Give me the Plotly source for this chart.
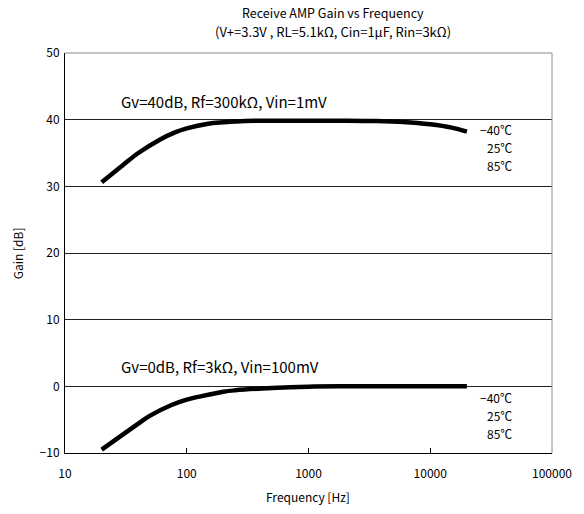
import plotly.graph_objects as go

# Receive amplifier gain vs frequency (two gain settings)
freq_hi = [20, 30, 40, 60, 80, 100, 150, 200, 300, 500, 1000, 2000, 3500, 6000, 10000, 15000, 20000]
gain_hi = [30.6, 33.2, 35.0, 37.0, 38.1, 38.7, 39.4, 39.6, 39.8, 39.85, 39.85, 39.85, 39.8, 39.65, 39.3, 38.8, 38.2]

freq_lo = [20, 30, 40, 50, 75, 100, 130, 200, 250, 500, 1000, 2000, 5000, 10000, 20000]
gain_lo = [-9.5, -7.2, -5.6, -4.4, -2.8, -2.0, -1.5, -0.8, -0.6, -0.25, -0.05, 0.0, 0.0, 0.0, 0.0]

x_ticks = [10, 100, 1000, 10000, 100000]
x_ticktext = ["10", "100", "1000", "10000", "100000"]
y_ticks = [-10, 0, 10, 20, 30, 40, 50]

temps = ["\u221240\u2103", "25\u2103", "85\u2103"]

FONT = "Noto Sans CJK JP"
L, R, T, B = 64.7, 561.7, 52.7, 453.3
PW, PH = R - L, B - T


def px(x):
    return (x - L) / PW


def py(y):
    return (B - y) / PH


fig = go.Figure()
for f, g in ((freq_hi, gain_hi), (freq_lo, gain_lo)):
    fig.add_trace(go.Scatter(x=f, y=g, mode="lines",
                             line=dict(color="black", width=4.5, shape="spline"),
                             showlegend=False, hoverinfo="skip"))

ann = []
for txt, ypos, size in (("Receive AMP Gain vs Frequency", 12, 12.5),
                        ("(V+=3.3V , RL=5.1k\u03a9, Cin=1\u03bcF, Rin=3k\u03a9)", 31, 13)):
    ann.append(dict(text=txt, xref="paper", yref="paper", x=px(338), y=py(ypos),
                    xanchor="center", yanchor="middle", showarrow=False,
                    font=dict(size=size, color="black", family=FONT)))

# condition labels
for txt, ypos in (("Gv=40dB, Rf=300k\u03a9, Vin=1mV", 101), ("Gv=0dB, Rf=3k\u03a9, Vin=100mV", 367)):
    ann.append(dict(text=txt, xref="paper", yref="paper", x=px(120), y=py(ypos),
                    xanchor="left", yanchor="middle", showarrow=False,
                    font=dict(size=15, color="black", family=FONT)))

# temperature labels for each curve group
for y0 in (129, 398):
    for i, t in enumerate(temps):
        ann.append(dict(text=t, xref="paper", yref="paper", x=px(523), y=py(y0 + 18 * i),
                        xanchor="right", yanchor="middle", showarrow=False,
                        font=dict(size=12, color="black", family=FONT)))

# axis titles
ann.append(dict(text="Frequency [Hz]", xref="paper", yref="paper", x=px(313), y=py(497),
                xanchor="center", yanchor="middle", showarrow=False,
                font=dict(size=12, color="black", family=FONT)))
ann.append(dict(text="Gain [dB]", xref="paper", yref="paper", x=px(16), y=0.5,
                xanchor="center", yanchor="middle", textangle=-90, showarrow=False,
                font=dict(size=12, color="black", family=FONT)))

fig.update_layout(
    width=584, height=514,
    margin=dict(l=L, r=584 - R, t=T, b=514 - B),
    paper_bgcolor="white", plot_bgcolor="white",
    font=dict(family=FONT, size=12, color="black"),
    annotations=ann,
    shapes=[
        dict(type="line", xref="paper", yref="paper", x0=0, x1=1, y0=1, y1=1,
             line=dict(color="#8c8c8c", width=1)),
        dict(type="line", xref="paper", yref="paper", x0=1, x1=1, y0=0, y1=1,
             line=dict(color="#8c8c8c", width=1)),
    ],
    xaxis=dict(type="log", range=[1, 5], tickvals=x_ticks, ticktext=x_ticktext,
               ticks="inside", ticklen=5, tickcolor="black", showgrid=False,
               showline=True, linecolor="black", linewidth=1, zeroline=False,
               ticklabelstandoff=10,
               tickfont=dict(size=12, color="black", family=FONT)),
    yaxis=dict(range=[-10, 50], tickvals=y_ticks, ticks="", showgrid=True,
               gridcolor="#222222", gridwidth=1, showline=True, linecolor="black",
               linewidth=1, zeroline=False, ticklabelstandoff=2,
               tickfont=dict(size=12, color="black", family=FONT)),
)

fig.write_html("out.html")
